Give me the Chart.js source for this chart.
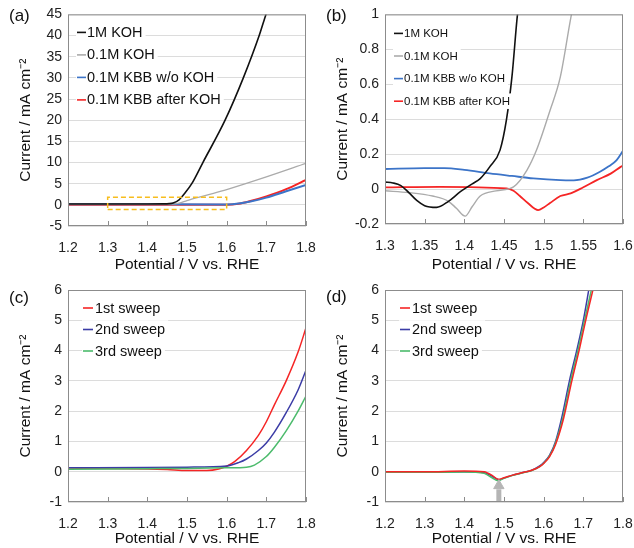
<!DOCTYPE html>
<html>
<head>
<meta charset="utf-8">
<script src="https://cdn.jsdelivr.net/npm/chart.js@4.4.1/dist/chart.umd.min.js"></script>
<style>
    body { margin: 0; background: #fff; }
    .panel { position: absolute; width: 317px; height: 274px; }
</style>
</head>
<body>
<div class="panel" style="left:0;top:0"><canvas id="chartA"></canvas></div>
<div class="panel" style="left:317px;top:0"><canvas id="chartB"></canvas></div>
<div class="panel" style="left:0;top:274px"><canvas id="chartC"></canvas></div>
<div class="panel" style="left:317px;top:274px"><canvas id="chartD"></canvas></div>
<script>
// (a) full range LSV
const aKoh1X = [1.2, 1.3, 1.4, 1.44, 1.455, 1.465, 1.48, 1.495, 1.512, 1.54, 1.596, 1.642, 1.682, 1.699, 1.71];
const aKoh1Y = [0.2, 0.2, 0.2, 0.22, 0.28, 0.45, 1.2, 2.8, 5.0, 10.0, 20.0, 30.0, 40.0, 45.0, 48.0];
const aKoh01X = [1.2, 1.4, 1.46, 1.48, 1.5, 1.55, 1.6, 1.7, 1.8];
const aKoh01Y = [0.1, 0.1, 0.15, 0.4, 1.0, 2.3, 3.6, 6.6, 9.8];
const aKbbX = [1.2, 1.4, 1.6, 1.63, 1.66, 1.7, 1.75, 1.8];
const aKbbY = [0.15, 0.12, 0.1, 0.3, 0.8, 1.7, 3.2, 4.7];
const aKbbAfterY = [0.0, 0.0, 0.0, 0.25, 0.9, 2.0, 3.7, 5.9];
const aBoxX = [1.3, 1.6, 1.6, 1.3, 1.3];
const aBoxY = [-1.1, -1.1, 1.8, 1.8, -1.1];

// (b) zoomed region
const bKoh1X = [1.3, 1.31, 1.32, 1.33, 1.34, 1.35, 1.365, 1.38, 1.395, 1.41, 1.42, 1.432, 1.445, 1.453, 1.46, 1.467, 1.47];
const bKoh1Y = [0.04, 0.035, 0.02, -0.02, -0.065, -0.095, -0.105, -0.07, -0.015, 0.03, 0.06, 0.127, 0.223, 0.394, 0.642, 1.0, 1.1];
const bKoh01X = [1.3, 1.33, 1.36, 1.38, 1.39, 1.401, 1.41, 1.42, 1.44, 1.462, 1.479, 1.491, 1.508, 1.521, 1.533, 1.537];
const bKoh01Y = [-0.01, -0.02, -0.04, -0.07, -0.11, -0.155, -0.1, -0.04, -0.01, 0.013, 0.109, 0.223, 0.45, 0.642, 0.95, 1.05];
const bKbbX = [1.3, 1.35, 1.375, 1.4, 1.432, 1.46, 1.487, 1.521, 1.538, 1.555, 1.571, 1.582, 1.592, 1.6];
const bKbbY = [0.115, 0.12, 0.12, 0.11, 0.09, 0.075, 0.061, 0.051, 0.05, 0.065, 0.099, 0.13, 0.166, 0.22];
const bKbbAfterX = [1.3, 1.369, 1.453, 1.462, 1.47, 1.48, 1.493, 1.5, 1.508, 1.521, 1.534, 1.55, 1.567, 1.585, 1.597, 1.6];
const bKbbAfterY = [0.01, 0.013, 0.004, -0.01, -0.04, -0.08, -0.12, -0.105, -0.08, -0.04, -0.025, 0.01, 0.051, 0.09, 0.127, 0.135];

// (c) sweeps in KBB
const cSweep1X = [1.2, 1.3, 1.4, 1.45, 1.5, 1.55, 1.58, 1.6, 1.62, 1.65, 1.68, 1.7, 1.72, 1.75, 1.78, 1.8];
const cSweep1Y = [0.12, 0.11, 0.09, 0.07, 0.04, 0.04, 0.09, 0.18, 0.33, 0.7, 1.2, 1.65, 2.2, 3.0, 3.95, 4.75];
const cSweep2X = [1.2, 1.4, 1.5, 1.6, 1.63, 1.65, 1.68, 1.7, 1.72, 1.75, 1.78, 1.8];
const cSweep2Y = [0.13, 0.14, 0.15, 0.19, 0.3, 0.42, 0.7, 0.95, 1.3, 1.95, 2.7, 3.35];
const cSweep3X = [1.2, 1.4, 1.5, 1.6, 1.65, 1.67, 1.7, 1.72, 1.75, 1.78, 1.8];
const cSweep3Y = [0.08, 0.1, 0.11, 0.13, 0.15, 0.22, 0.5, 0.8, 1.35, 2.0, 2.5];

// (d) sweeps after KOH
const dSweep1X = [1.2, 1.3, 1.4, 1.45, 1.46, 1.47, 1.485, 1.5, 1.52, 1.55, 1.57, 1.59, 1.6, 1.615, 1.63, 1.65, 1.671, 1.691, 1.706, 1.726];
const dSweep1Y = [0.0, 0.0, 0.02, 0.0, -0.05, -0.12, -0.25, -0.2, -0.12, -0.02, 0.05, 0.17, 0.27, 0.5, 0.9, 1.75, 3.0, 4.1, 5.0, 6.1];
const dSweep2X = [1.2, 1.3, 1.4, 1.45, 1.46, 1.47, 1.488, 1.5, 1.52, 1.55, 1.57, 1.59, 1.6, 1.615, 1.63, 1.645, 1.665, 1.685, 1.7, 1.715];
const dSweep2Y = [-0.02, -0.01, 0.0, -0.03, -0.08, -0.15, -0.27, -0.21, -0.12, -0.02, 0.05, 0.19, 0.3, 0.55, 1.0, 1.75, 3.0, 4.1, 5.0, 6.1];
const dSweep3X = [1.2, 1.3, 1.4, 1.45, 1.46, 1.47, 1.485, 1.5, 1.52, 1.55, 1.57, 1.59, 1.6, 1.615, 1.63, 1.648, 1.668, 1.688, 1.703, 1.722];
const dSweep3Y = [-0.02, -0.02, -0.01, -0.05, -0.12, -0.2, -0.3, -0.22, -0.13, -0.03, 0.04, 0.17, 0.28, 0.52, 0.95, 1.75, 3.0, 4.1, 5.0, 6.1];
const dArrowX = [1.487, 1.487];
const dArrowY = [-1, -0.58];
const dArrowHeadY = [-0.46];

const FONT = "'Liberation Sans', Arial, sans-serif";

function pts(xs, ys) {
    return xs.map((x, i) => ({ x: x, y: ys[i] }));
}

function curve(label, xs, ys, color, width) {
    return {
        label: label,
        data: pts(xs, ys),
        borderColor: color,
        borderWidth: width,
        pointRadius: 0,
        cubicInterpolationMode: "monotone",
        fill: false
    };
}

// frame, inner x ticks, legend and panel letter
const decor = {
    id: "decor",
    afterDatasetsDraw(chart, args, opts) {
        const ctx = chart.ctx;
        const a = chart.chartArea;
        ctx.save();
        ctx.strokeStyle = "#8c8c8c";
        ctx.lineWidth = 1;
        ctx.strokeRect(a.left + 0.5, a.top + 0.5, a.right - a.left - 1, a.bottom - a.top - 1);
        const xs = chart.scales.x;
        xs.ticks.forEach(t => {
            const px = Math.round(xs.getPixelForValue(t.value)) + 0.5;
            ctx.beginPath();
            ctx.moveTo(px, a.bottom);
            ctx.lineTo(px, a.bottom - 5);
            ctx.stroke();
        });
        // legend
        ctx.font = opts.fontSize + "px " + FONT;
        ctx.textBaseline = "middle";
        opts.items.forEach((it, i) => {
            const y = a.top + opts.y0 + i * opts.gap;
            const tx = a.left + opts.textX;
            const w = ctx.measureText(it.text).width;
            ctx.fillStyle = "#fff";
            ctx.fillRect(a.left + opts.lineX0 - 1, y - opts.fontSize / 2 - 2, tx - a.left - opts.lineX0 + w + 4, opts.fontSize + 4);
            ctx.strokeStyle = it.color;
            ctx.lineWidth = 1.6;
            ctx.beginPath();
            ctx.moveTo(a.left + opts.lineX0, y);
            ctx.lineTo(a.left + opts.lineX1, y);
            ctx.stroke();
            ctx.fillStyle = "#111";
            ctx.fillText(it.text, tx, y + 0.5);
        });
        // panel letter
        ctx.font = "17px " + FONT;
        ctx.fillStyle = "#111";
        ctx.textBaseline = "middle";
        ctx.fillText(opts.letter, 9, opts.letterY);
        ctx.restore();
    }
};

function makeChart(id, datasets, cfg) {
    return new Chart(document.getElementById(id), {
        type: "line",
        data: { datasets: datasets },
        plugins: [decor],
        options: {
            responsive: true,
            maintainAspectRatio: false,
            animation: false,
            layout: { padding: { top: cfg.top, right: 0, left: 0, bottom: 0 } },
            plugins: {
                legend: { display: false },
                tooltip: { enabled: false },
                decor: cfg.decor
            },
            scales: {
                x: {
                    type: "linear",
                    min: cfg.xMin,
                    max: cfg.xMax,
                    afterFit: s => { s.height = cfg.xHeight; s.paddingRight = 11; },
                    afterBuildTicks: s => { s.ticks = cfg.xTicks.map(v => ({ value: v })); },
                    grid: { display: false, drawTicks: false },
                    border: { display: false },
                    ticks: {
                        padding: 14,
                        color: "#222",
                        font: { family: FONT, size: 14 },
                        maxRotation: 0,
                        autoSkip: false,
                        callback: v => String(Number(v.toFixed(2)))
                    },
                    title: {
                        display: true,
                        text: "Potential / V vs. RHE",
                        color: "#111",
                        font: { family: FONT, size: 15.5 },
                        padding: { top: 0, bottom: 0 }
                    }
                },
                y: {
                    type: "linear",
                    min: cfg.yMin,
                    max: cfg.yMax,
                    afterFit: s => { s.width = 68; },
                    afterBuildTicks: s => { s.ticks = cfg.yTicks.map(v => ({ value: v })); },
                    grid: { color: "#dcdcdc", lineWidth: 1, drawTicks: false },
                    border: { display: false },
                    ticks: {
                        padding: 6,
                        color: "#222",
                        font: { family: FONT, size: 14 },
                        callback: v => String(Number(v.toFixed(2)))
                    },
                    title: {
                        display: true,
                        text: "Current / mA cm\u207B\u00B2",
                        color: "#111",
                        font: { family: FONT, size: 15.5 },
                        padding: { top: 16, bottom: 0 }
                    }
                }
            }
        }
    });
}

makeChart("chartA", [
    Object.assign(curve("box", aBoxX, aBoxY, "#f7bd1e", 1.5), { borderDash: [5, 3], cubicInterpolationMode: "default", tension: 0 }),
    curve("1M KOH", aKoh1X, aKoh1Y, "#111111", 1.6),
    curve("0.1M KOH", aKoh01X, aKoh01Y, "#ababab", 1.3),
    curve("0.1M KBB w/o KOH", aKbbX, aKbbY, "#3c74c8", 2),
    curve("0.1M KBB after KOH", aKbbX, aKbbAfterY, "#f52525", 2)
], {
    top: 14, xHeight: 48, xMin: 1.2, xMax: 1.8, yMin: -5, yMax: 45,
    xTicks: [1.2, 1.3, 1.4, 1.5, 1.6, 1.7, 1.8],
    yTicks: [-5, 0, 5, 10, 15, 20, 25, 30, 35, 40, 45],
    decor: {
        letter: "(a)", letterY: 16, fontSize: 14.5, y0: 18, gap: 22.5, lineX0: 9, lineX1: 18, textX: 19,
        items: [
            { text: "1M KOH", color: "#111111" },
            { text: "0.1M KOH", color: "#ababab" },
            { text: "0.1M KBB w/o KOH", color: "#3c74c8" },
            { text: "0.1M KBB after KOH", color: "#f52525" }
        ]
    }
});

makeChart("chartB", [
    curve("1M KOH", bKoh1X, bKoh1Y, "#111111", 1.6),
    curve("0.1M KOH", bKoh01X, bKoh01Y, "#ababab", 1.4),
    curve("0.1M KBB w/o KOH", bKbbX, bKbbY, "#3c74c8", 1.8),
    curve("0.1M KBB after KOH", bKbbAfterX, bKbbAfterY, "#f52525", 1.8)
], {
    top: 14, xHeight: 50, xMin: 1.3, xMax: 1.6, yMin: -0.2, yMax: 1,
    xTicks: [1.3, 1.35, 1.4, 1.45, 1.5, 1.55, 1.6],
    yTicks: [-0.2, 0, 0.2, 0.4, 0.6, 0.8, 1],
    decor: {
        letter: "(b)", letterY: 16, fontSize: 11.5, y0: 19, gap: 22.6, lineX0: 9, lineX1: 18, textX: 19,
        items: [
            { text: "1M KOH", color: "#111111" },
            { text: "0.1M KOH", color: "#ababab" },
            { text: "0.1M KBB w/o KOH", color: "#3c74c8" },
            { text: "0.1M KBB after KOH", color: "#f52525" }
        ]
    }
});

const sweepLegend = [
    { text: "1st sweep", color: "#f52525" },
    { text: "2nd sweep", color: "#3b3ca6" },
    { text: "3rd sweep", color: "#4cbb6c" }
];

makeChart("chartC", [
    curve("3rd sweep", cSweep3X, cSweep3Y, "#4cbb6c", 1.5),
    curve("2nd sweep", cSweep2X, cSweep2Y, "#3b3ca6", 1.5),
    curve("1st sweep", cSweep1X, cSweep1Y, "#f52525", 1.5)
], {
    top: 16, xHeight: 46, xMin: 1.2, xMax: 1.8, yMin: -1, yMax: 6,
    xTicks: [1.2, 1.3, 1.4, 1.5, 1.6, 1.7, 1.8],
    yTicks: [-1, 0, 1, 2, 3, 4, 5, 6],
    decor: { letter: "(c)", letterY: 24, fontSize: 14.5, y0: 18, gap: 21.5, lineX0: 15, lineX1: 25, textX: 27, items: sweepLegend }
});

makeChart("chartD", [
    Object.assign(curve("arrow", dArrowX, dArrowY, "#b5b5b5", 5), { cubicInterpolationMode: "default" }),
    {
        label: "arrowhead",
        data: pts([1.487], dArrowHeadY),
        pointStyle: "triangle",
        pointRadius: 6,
        backgroundColor: "#b5b5b5",
        borderColor: "#b5b5b5",
        showLine: false
    },
    curve("1st sweep", dSweep1X, dSweep1Y, "#f52525", 1.5),
    curve("3rd sweep", dSweep3X, dSweep3Y, "#4cbb6c", 1.5),
    curve("2nd sweep", dSweep2X, dSweep2Y, "#3b3ca6", 1.5)
], {
    top: 16, xHeight: 46, xMin: 1.2, xMax: 1.8, yMin: -1, yMax: 6,
    xTicks: [1.2, 1.3, 1.4, 1.5, 1.6, 1.7, 1.8],
    yTicks: [-1, 0, 1, 2, 3, 4, 5, 6],
    decor: { letter: "(d)", letterY: 23, fontSize: 14.5, y0: 18, gap: 21.5, lineX0: 15, lineX1: 25, textX: 27, items: sweepLegend }
});
</script>
</body>
</html>
